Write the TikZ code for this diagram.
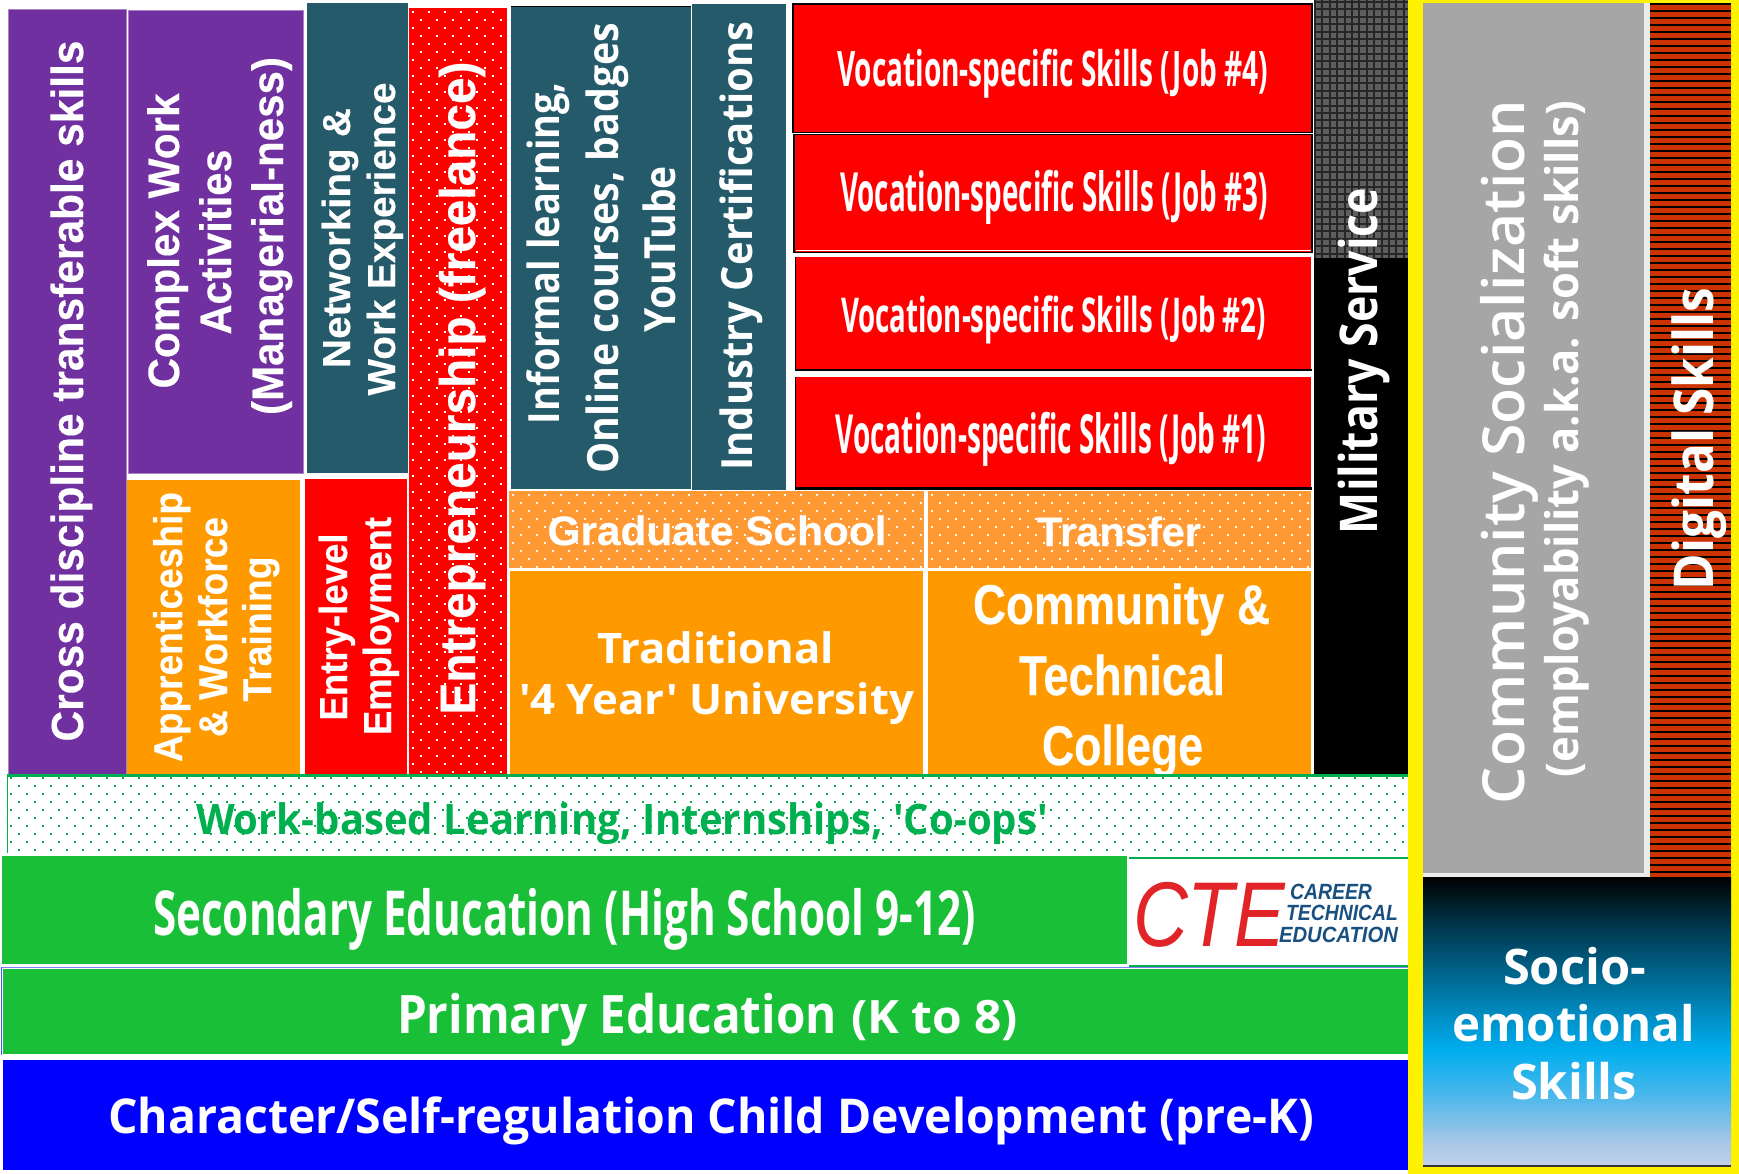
\documentclass[tikz,border=0pt]{standalone}
\usepackage{fontspec}
\usepackage{graphicx}
\setmainfont[BoldFeatures={FakeBold=0.35}]{Liberation Sans}
\newfontfamily\hum{Open Sans}
\newfontfamily\med{Open Sans Semibold}
\definecolor{cpurple}{HTML}{7030A0}
\definecolor{corange}{HTML}{FF9900}
\definecolor{cdot}{HTML}{FF9933}
\definecolor{cred}{HTML}{FF0000}
\definecolor{cteal}{HTML}{245A6A}
\definecolor{cgreen}{HTML}{1ABF38}
\definecolor{cwbl}{HTML}{00B050}
\definecolor{cblue}{HTML}{0000FF}
\definecolor{cgray}{HTML}{A6A6A6}
\definecolor{cdig}{HTML}{CC3300}
\definecolor{clogo}{HTML}{1A5080}
\definecolor{ccte}{HTML}{E02428}
\definecolor{cmil}{HTML}{5E5E5E}
\pgfdeclareverticalshading{socio}{100bp}{rgb(0bp)=(0.75,0.82,0.91);rgb(25bp)=(0.75,0.82,0.91);rgb(29bp)=(0.66,0.78,0.90);rgb(37bp)=(0.30,0.72,0.92);rgb(45bp)=(0,0.68,0.94);rgb(60bp)=(0,0.36,0.50);rgb(68bp)=(0,0.18,0.25);rgb(75bp)=(0,0,0);rgb(100bp)=(0,0,0)}
\newsavebox\fitbox
\newcommand\fitted[3]{\sbox\fitbox{\fontsize{#1}{#1}\selectfont #3}\pgfmathsetmacro\fitsc{#2/\the\wd\fitbox}\scalebox{\fitsc}[1]{\usebox\fitbox}}
\tikzset{txt/.style={inner sep=0pt,outer sep=0pt,anchor=base},
 vtxt/.style={txt,rotate=90}}
% name, x, y, width, size, font, colour, text
\newcommand\hl[8]{\node[txt,text=#7] (#1) at (#2,#3) {#6\fitted{#5}{#4}{#8}};}
\newcommand\vl[8]{\node[vtxt,text=#7] (#1) at (#2,#3) {#6\fitted{#5}{#4}{#8}};}
\newcommand\bx[6][]{\fill[#6,#1] (#2,#3) rectangle (#4,#5);}
\newcommand\dotsgrid[5]{\begin{scope}\clip (#1,#2) rectangle (#3,#4);
 \pgfmathtruncatemacro\nr{(#4-#2)/8}\pgfmathtruncatemacro\nc{(#3-#1)/16}
 \foreach \r in {0,...,\nr}{\foreach \c in {0,...,\nc}{
  \pgfmathsetmacro\dx{#1+4+\c*16+mod(\r,2)*8-1.1}\pgfmathsetmacro\dy{#2+4+\r*8-1.1}
  \fill[#5] (\dx,\dy) rectangle ++(2.2,2.2);}}
 \end{scope}}
\begin{document}
\begin{tikzpicture}[x=1pt,y=-1pt]
\useasboundingbox (0,0) rectangle (1739,1174);
\fill[white] (0,0) rectangle (1739,1174);
\begin{scope}
\clip (0,0) rectangle (1739,1174);
% left column
\fill[cpurple,draw=cpurple!60!white,line width=0.8pt] (8.5,9.5) rectangle (126.5,775);
\fill[cpurple,draw=cpurple!60!white,line width=0.8pt] (128,10.5) rectangle (303.5,473);
\vl{cross}{83}{391}{701}{45}{\bfseries}{white}{Cross discipline transferable skills}
\vl{cw1}{179}{241}{295}{44}{\bfseries}{white}{Complex Work}
\vl{cw2}{231}{242}{185}{44}{\bfseries}{white}{Activities}
\vl{cw3}{283}{236}{358}{44}{\bfseries}{white}{(Managerial-ness)}
\bx{127}{480}{300}{775}{corange}
\vl{ap1}{182}{627}{270}{40}{\bfseries}{white}{Apprenticeship}
\vl{ap2}{227}{627}{220}{40}{\bfseries}{white}{\& Workforce}
\vl{ap3}{271}{629}{145}{40}{\bfseries}{white}{Training}
\bx{307}{3}{408}{473}{cteal}
\vl{nw1}{350}{238}{260}{39}{\bfseries}{white}{Networking \&}
\vl{nw2}{395}{239}{313}{39}{\bfseries}{white}{Work Experience}
\bx{305}{479}{407}{775}{cred}
\vl{el1}{347}{627}{187}{39}{\bfseries}{white}{Entry-level}
\vl{el2}{391}{626}{218}{39}{\bfseries}{white}{Employment}
\bx{409}{8}{507}{775}{cred}
\dotsgrid{409}{8}{507}{775}{white}
\vl{ent}{475}{388}{653}{50}{\bfseries}{white}{Entrepreneurship (freelance)}
% teal middle
\draw[black,line width=1pt] (511,6.5) -- (691,6.5);
\bx{511}{7}{690.5}{489}{cteal}
\bx{692}{4}{786}{490}{cteal}
\vl{inf1}{559}{253}{342}{43}{\hum\bfseries}{white}{Informal learning,}
\vl{inf2}{618}{248}{451}{43}{\hum\bfseries}{white}{Online courses, badges}
\vl{inf3}{675}{249}{166}{43}{\hum\bfseries}{white}{YouTube}
\vl{ind}{752}{246}{449}{43}{\hum\bfseries}{white}{Industry Certifications}
% red jobs
\fill[cred,draw=black,line width=1.6pt] (793,4) rectangle (1312,132.5);
\fill[cred,draw=black,line width=1.2pt] (794,134.5) rectangle (1312,252.5);
\draw[white,line width=0.9pt] (796,250.5) -- (1311,250.5);
\bx{795}{257}{1311}{369}{cred}
\draw[black,line width=2pt] (795,370) -- (1312,370);
\draw[black,line width=1pt] (795,257) -- (795,370);
\bx{795}{377}{1311}{487}{cred}
\draw[black,line width=2.5pt] (795,488.5) -- (1312,488.5);
\draw[black,line width=1pt] (795,377) -- (795,488);
\hl{j4}{1052.5}{87}{431}{49}{\hum\bfseries}{white}{Vocation-specific Skills (Job \#4)}
\hl{j3}{1054}{212}{428}{54}{\hum\bfseries}{white}{Vocation-specific Skills (Job \#3)}
\hl{j2}{1053.5}{332}{425}{48}{\hum\bfseries}{white}{Vocation-specific Skills (Job \#2)}
\hl{j1}{1051}{453}{431}{54}{\hum\bfseries}{white}{Vocation-specific Skills (Job \#1)}
% orange college block
\bx{509}{491}{924}{568}{cdot}
\dotsgrid{509}{491}{924}{568}{white}
\bx{928}{491}{1311}{568}{cdot}
\dotsgrid{928}{491}{1311}{568}{white}
\hl{grad}{717}{545}{339}{41}{\bfseries}{white}{Graduate School}
\hl{trans}{1119}{546}{164}{41}{\bfseries}{white}{Transfer}
\bx{510}{571}{923}{775}{corange}
\hl{tr1}{715.5}{663}{237}{42}{\hum\bfseries}{white}{Traditional}
\hl{tr2}{716.5}{714}{395}{42}{\hum\bfseries}{white}{'4 Year' University}
\bx{928}{571}{1311}{775}{corange}
\hl{cc1}{1121.5}{624}{297}{56}{\bfseries}{white}{Community \&}
\hl{cc2}{1122}{695}{206}{56}{\bfseries}{white}{Technical}
\hl{cc3}{1122.5}{765}{161}{56}{\bfseries}{white}{College}
% military
\fill[cmil] (1314,0) rectangle (1408,258);
\foreach \i in {0,...,12}{\draw[black!85,line width=2pt] ({1315+\i*7.4},0) -- ({1315+\i*7.4},258);}
\foreach \i in {0,...,34}{\draw[black!85,line width=2pt] (1314,{2+\i*7.4}) -- (1408,{2+\i*7.4});}
\bx{1314}{258}{1408}{775}{black}
\vl{mil}{1377}{361}{346}{52}{\hum\bfseries}{white}{Military Service}
% work-based band
\bx{7}{775}{1408}{853}{white}
\dotsgrid{7}{774}{1408}{853}{cwbl}
\draw[cwbl,line width=2.5pt] (7,775.5) -- (1408,775.5);
\draw[cwbl,line width=1.2pt] (7.5,775) -- (7.5,853);
\hl{wbl}{622}{834}{852}{42}{\hum\bfseries}{cwbl}{Work-based Learning, Internships, 'Co-ops'}
% secondary
\bx{2}{856}{1127}{964}{cgreen}
\hl{sec}{564.5}{935}{823}{62}{\hum\bfseries}{white}{Secondary Education (High School 9-12)}
\draw[cwbl,line width=2.5pt] (1129,858) -- (1408,858);
\draw[cwbl,line width=1.5pt] (1129,966) -- (1408,966);
\hl{cte}{1209}{946}{152}{92}{\itshape}{ccte}{CTE}
\hl{lg1}{1331}{899}{82}{22}{\bfseries\itshape}{clogo}{CAREER}
\hl{lg2}{1342}{920}{112}{22}{\bfseries\itshape}{clogo}{TECHNICAL}
\hl{lg3}{1338.5}{942}{119}{22}{\bfseries\itshape}{clogo}{EDUCATION}
% primary
\draw[cblue!50!white,line width=0.8pt] (1,967.5) -- (1408,967.5);
\draw[cblue!70!white,line width=0.8pt] (1,967) -- (1,1055);
\bx{3}{969}{1408}{1054}{cgreen}
\hl{pri}{617}{1033}{440}{53}{\hum\bfseries}{white}{Primary Education}
\hl{kto}{934.5}{1033}{167}{46}{\hum\bfseries}{white}{(K to 8)}
% pre-K
\bx{3}{1060}{1408}{1170}{cblue}
\hl{chr}{711}{1133}{1206}{48}{\hum\bfseries}{white}{Character/Self-regulation Child Development (pre-K)}
% right panel
\bx{1408}{0}{1739}{1174}{yellow}
\bx{1423}{3}{1650}{877}{white!92!black}
\bx{1423}{3}{1644}{873}{cgray}
\bx{1650}{3}{1731}{877}{cdig}
\foreach \i in {0,...,124}{\draw[black,line width=1.5pt] (1650,{4+\i*7}) -- (1731,{4+\i*7});}
\vl{com}{1524}{452}{704}{58}{\med}{white}{Community Socialization}
\vl{emp}{1578}{439}{676}{45}{\hum\bfseries}{white}{(employability a.k.a. soft skills)}
\vl{dig}{1713}{439}{302}{55}{\hum\bfseries}{white}{Digital Skills}
\shade[shading=socio] (1423,877) rectangle (1731,1165);
\draw[black!80,line width=1.8pt] (1423,1166) -- (1731,1166);
\hl{so1}{1574.5}{984}{143}{49}{\hum\bfseries}{white}{Socio-}
\hl{so2}{1573.5}{1041}{243}{49}{\hum\bfseries}{white}{emotional}
\hl{so3}{1574}{1099}{126}{49}{\hum\bfseries}{white}{Skills}
\end{scope}
\end{tikzpicture}
\end{document}
